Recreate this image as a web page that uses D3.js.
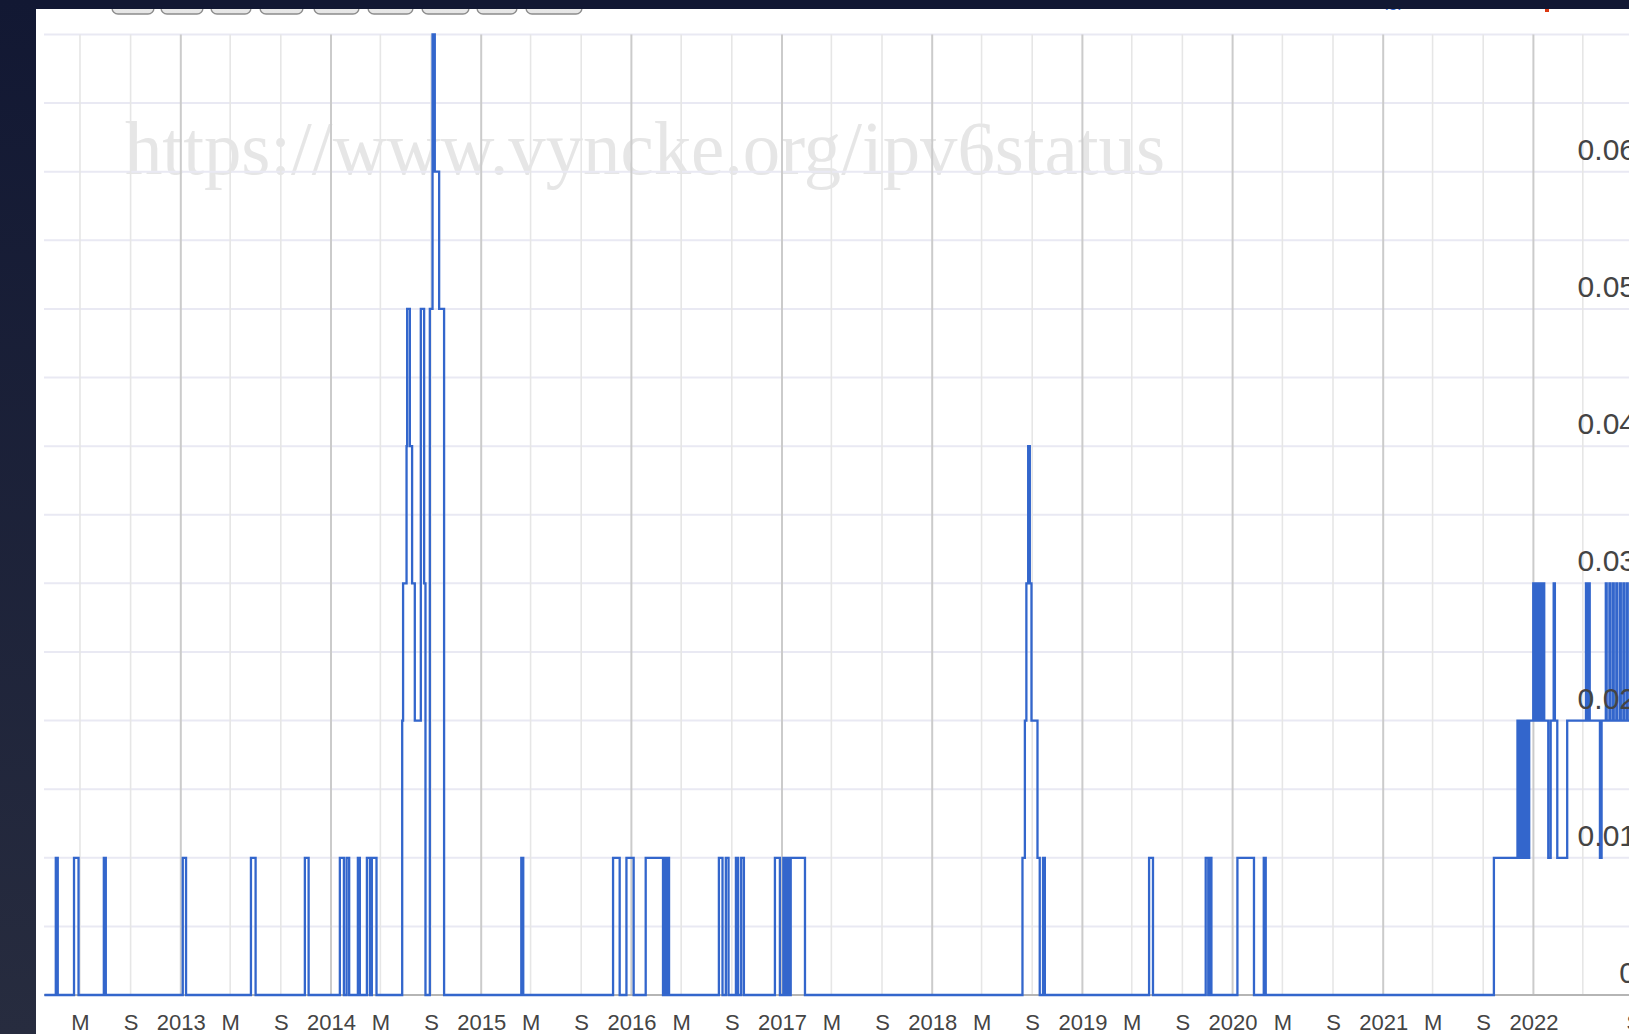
<!DOCTYPE html>
<html>
<head>
<meta charset="utf-8">
<script src="https://cdn.jsdelivr.net/npm/d3@7"></script>
<style>
  html, body { margin: 0; padding: 0; background: #fff; overflow: hidden; }
  svg { display: block; }
</style>
</head>
<body>
<svg id="chart"></svg>
<script>
// Step series: [decimal year, value after the change]
const start2012 = [[2012.0945, 0]];
const pulses2012to2014 = [
  [2012.170, 0.01], [2012.183, 0],
  [2012.291, 0.01], [2012.321, 0],
  [2012.489, 0.01], [2012.502, 0],
  [2013.013, 0.01], [2013.035, 0],
  [2013.467, 0.01], [2013.498, 0],
  [2013.826, 0.01], [2013.851, 0],
  [2014.059, 0.01], [2014.086, 0],
  [2014.104, 0.01], [2014.121, 0],
  [2014.179, 0.01], [2014.192, 0],
  [2014.239, 0.01], [2014.259, 0],
  [2014.272, 0.01], [2014.303, 0]
];
const peak2014 = [
  [2014.474, 0.02], [2014.480, 0.03], [2014.503, 0.04], [2014.507, 0.05],
  [2014.525, 0.04], [2014.540, 0.03], [2014.558, 0.02], [2014.598, 0.05],
  [2014.620, 0.03], [2014.629, 0], [2014.658, 0.05], [2014.676, 0.07],
  [2014.691, 0.06], [2014.720, 0.05], [2014.753, 0]
];
const pulses2015to2017 = [
  [2015.267, 0.01], [2015.280, 0],
  [2015.878, 0.01], [2015.922, 0],
  [2015.967, 0.01], [2016.015, 0],
  [2016.095, 0.01], [2016.210, 0], [2016.218, 0.01], [2016.228, 0],
  [2016.238, 0.01], [2016.250, 0],
  [2016.581, 0.01], [2016.605, 0],
  [2016.627, 0.01], [2016.645, 0],
  [2016.694, 0.01], [2016.709, 0],
  [2016.729, 0.01], [2016.747, 0],
  [2016.953, 0.01], [2016.986, 0],
  [2017.009, 0.01], [2017.022, 0], [2017.033, 0.01], [2017.043, 0],
  [2017.058, 0.01], [2017.153, 0]
];
const peak2018 = [
  [2018.601, 0.01], [2018.617, 0.02], [2018.627, 0.03], [2018.639, 0.04],
  [2018.650, 0.03], [2018.661, 0.02], [2018.701, 0.01], [2018.716, 0],
  [2018.738, 0.01], [2018.750, 0]
];
const pulses2019to2020 = [
  [2019.444, 0.01], [2019.470, 0],
  [2019.821, 0.01], [2019.838, 0], [2019.845, 0.01], [2019.859, 0],
  [2020.032, 0.01], [2020.142, 0],
  [2020.207, 0.01], [2020.220, 0]
];
const rise2021to2022 = [
  [2021.737, 0.01],
  [2021.894, 0.02], [2021.899, 0.01], [2021.910, 0.02], [2021.915, 0.01],
  [2021.927, 0.02], [2021.932, 0.01], [2021.943, 0.02], [2021.948, 0.01],
  [2021.960, 0.02], [2021.965, 0.01], [2021.972, 0.02],
  [2021.999, 0.03], [2022.006, 0.02], [2022.016, 0.03], [2022.022, 0.02],
  [2022.032, 0.03], [2022.038, 0.02], [2022.049, 0.03], [2022.055, 0.02],
  [2022.066, 0.03], [2022.072, 0.02],
  [2022.099, 0.01], [2022.115, 0.02], [2022.135, 0.03], [2022.143, 0.02],
  [2022.159, 0.01], [2022.225, 0.02],
  [2022.350, 0.03], [2022.355, 0.02], [2022.370, 0.03], [2022.375, 0.02],
  [2022.443, 0.01], [2022.454, 0.02],
  [2022.482, 0.03], [2022.488, 0.02], [2022.506, 0.03], [2022.512, 0.02],
  [2022.529, 0.03], [2022.535, 0.02], [2022.552, 0.03], [2022.558, 0.02],
  [2022.576, 0.03], [2022.582, 0.02], [2022.599, 0.03], [2022.605, 0.02],
  [2022.622, 0.03], [2022.628, 0.02], [2022.700, 0.02]
];

const yTicks = [0, 0.01, 0.02, 0.03, 0.04, 0.05, 0.06];
const monthLetters = ["J", "F", "M", "A", "M", "J", "J", "A", "S", "O", "N", "D"];
const hiddenTickLabels = ["2022-05"];
const watermark = "https://www.vyncke.org/ipv6status";
const legendBits = ["(g)"];

const width = 1629, height = 1034;

function yearToDate(t) {
  let yr = Math.floor(t);
  let a = new Date(yr, 0, 1), b = new Date(yr + 1, 0, 1);
  return new Date(+a + (t - yr) * (b - a));
}

let series = [].concat(start2012, pulses2012to2014, peak2014, pulses2015to2017,
                       peak2018, pulses2019to2020, rise2021to2022)
  .map(d => ({date: yearToDate(d[0]), value: d[1]}));

let x = d3.scaleTime()
  .domain([new Date(2013, 0, 1), new Date(2022, 0, 1)])
  .range([180.8, 1533.4]);
let y = d3.scaleLinear().domain([0, 0.07]).range([995, 34.5]);

let svg = d3.select("#chart")
  .attr("width", width)
  .attr("height", height)
  .attr("viewBox", [0, 0, width, height]);

let defs = svg.append("defs");
let sideGrad = defs.append("linearGradient").attr("id", "side")
  .attr("x1", 0).attr("y1", 0).attr("x2", 0).attr("y2", 1);
sideGrad.append("stop").attr("offset", "0%").attr("stop-color", "#121833");
sideGrad.append("stop").attr("offset", "100%").attr("stop-color", "#272c3f");
let btnGrad = defs.append("linearGradient").attr("id", "btn")
  .attr("x1", 0).attr("y1", 0).attr("x2", 0).attr("y2", 1);
btnGrad.append("stop").attr("offset", "0%").attr("stop-color", "#ffffff");
btnGrad.append("stop").attr("offset", "100%").attr("stop-color", "#e4e4e4");
defs.append("clipPath").attr("id", "plot")
  .append("rect").attr("x", 44).attr("y", 0).attr("width", width - 44).attr("height", 1000);

svg.append("rect").attr("width", width).attr("height", height).attr("fill", "#fff");

// Watermark
svg.append("text")
  .attr("x", 125).attr("y", 174)
  .attr("textLength", 1040).attr("lengthAdjust", "spacingAndGlyphs")
  .attr("fill", "#e6e6e6")
  .style("font-family", "'Liberation Serif', 'DejaVu Serif', serif")
  .style("font-size", "76px")
  .text(watermark);

let plot = svg.append("g").attr("clip-path", "url(#plot)");

// Horizontal grid every 0.005
plot.append("g").selectAll("line").data(d3.range(1, 15).map(i => i * 0.005)).join("line")
  .attr("x1", 44).attr("x2", width)
  .attr("y1", d => y(d)).attr("y2", d => y(d))
  .attr("stroke", "#e9e9f3")
  .attr("stroke-width", 2);

// Vertical grid every 4 months
let monthTicks = d3.timeMonth.every(4).range(new Date(2012, 2, 1), new Date(2023, 0, 2));
plot.append("g").selectAll("line").data(monthTicks).join("line")
  .attr("x1", d => x(d)).attr("x2", d => x(d))
  .attr("y1", y(0.07)).attr("y2", y(0))
  .attr("stroke", d => d.getMonth() == 0 ? "#cbcbcb" : "#e6e6e6")
  .attr("stroke-width", d => d.getMonth() == 0 ? 2 : 1.6);

// Baseline
plot.append("line")
  .attr("x1", 44).attr("x2", width)
  .attr("y1", y(0)).attr("y2", y(0))
  .attr("stroke", "#b5b5b5").attr("stroke-width", 2);

// Y labels (right aligned, sitting above their grid line)
let yAxis = svg.append("g")
  .attr("transform", "translate(1636,0)")
  .call(d3.axisLeft(y).tickValues(yTicks).tickSize(0).tickPadding(0)
    .tickFormat(d => d === 0 ? "0" : d3.format(".2f")(d)));
yAxis.select(".domain").remove();
yAxis.selectAll("text")
  .attr("dy", null).attr("y", -12.5)
  .attr("fill", "#444")
  .style("font-family", "'Liberation Sans', Arial, sans-serif")
  .style("font-size", "30px");

// Step line
let line = d3.line()
  .x(d => x(d.date))
  .y(d => y(d.value))
  .curve(d3.curveStepAfter);

plot.append("path")
  .datum(series)
  .attr("fill", "none")
  .attr("stroke", "#3366cc")
  .attr("stroke-width", 2.3)
  .attr("d", line);

// X labels
let fmtKey = d3.timeFormat("%Y-%m");
let xAxis = svg.append("g")
  .attr("transform", "translate(0," + y(0) + ")")
  .call(d3.axisBottom(x).tickValues(monthTicks).tickSize(0).tickPadding(19)
    .tickFormat(d => {
      if (hiddenTickLabels.includes(fmtKey(d))) return "";
      return d.getMonth() == 0 ? d3.timeFormat("%Y")(d) : monthLetters[d.getMonth()];
    }));
xAxis.select(".domain").remove();
xAxis.selectAll("text")
  .attr("fill", "#444")
  .style("font-family", "'Liberation Sans', Arial, sans-serif")
  .style("font-size", "22px");

// Range buttons, mostly hidden under the top bar
let buttons = [[112, 154], [161, 203], [211, 251], [260, 303], [314, 359],
               [368, 413], [422, 469], [477, 517], [526, 582]];
svg.append("g").selectAll("rect").data(buttons).join("rect")
  .attr("x", d => d[0]).attr("y", -20)
  .attr("width", d => d[1] - d[0]).attr("height", 34)
  .attr("rx", 6)
  .attr("fill", "url(#btn)")
  .attr("stroke", "#8c8c8c").attr("stroke-width", 1.3);

// Legend fragments cut by the top bar
svg.append("text")
  .attr("x", 1382).attr("y", 6)
  .attr("fill", "#3366cc")
  .style("font-family", "'Liberation Sans', Arial, sans-serif")
  .style("font-size", "18px")
  .text(legendBits[0]);
svg.append("rect")
  .attr("x", 1545).attr("y", 6).attr("width", 4).attr("height", 6)
  .attr("fill", "#dc3912");

// Dark frame
svg.append("rect").attr("x", 0).attr("y", 0).attr("width", width).attr("height", 9)
  .attr("fill", "#121833");
svg.append("rect").attr("x", 0).attr("y", 0).attr("width", 36).attr("height", height)
  .attr("fill", "url(#side)");
</script>
</body>
</html>
